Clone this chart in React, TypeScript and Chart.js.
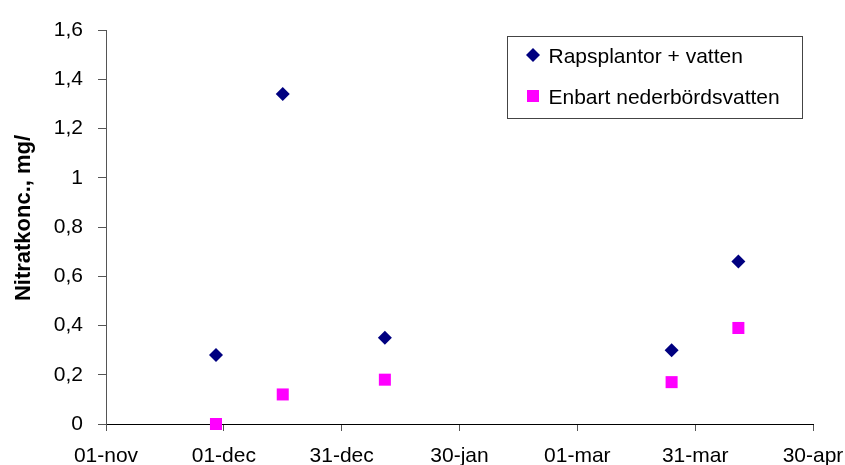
import React, { useEffect, useRef } from "react";
import { Chart, registerables } from "chart.js";

Chart.register(...registerables);

// Days counted from 1 November
const sampleDays = [28, 45, 71, 144, 161];
const rapsValues = [0.28, 1.34, 0.35, 0.3, 0.66];
const enbartValues = [0.0, 0.12, 0.18, 0.17, 0.39];

const seriesNames = ["Rapsplantor + vatten", "Enbart nederbördsvatten"];
const xTickLabels = ["01-nov", "01-dec", "31-dec", "30-jan", "01-mar", "31-mar", "30-apr"];
const yTickLabels = ["0", "0,2", "0,4", "0,6", "0,8", "1", "1,2", "1,4", "1,6"];
const yTitle = "Nitratkonc., mg/";

const NAVY = "#000080";
const MAGENTA = "#FF00FF";
const FONT = "'Liberation Sans', Arial, sans-serif";

// Rotated y-axis title, sitting a little above the plot's vertical centre
const yAxisTitle = {
  id: "yAxisTitle",
  afterDraw(chart: any) {
    const ctx = chart.ctx as CanvasRenderingContext2D;
    const area = chart.chartArea;
    ctx.save();
    ctx.translate(24, (area.top + area.bottom) / 2 - 9);
    ctx.rotate(-Math.PI / 2);
    ctx.font = `bold 22px ${FONT}`;
    ctx.fillStyle = "#000000";
    ctx.textAlign = "center";
    ctx.textBaseline = "middle";
    ctx.fillText(yTitle, 0, 0);
    ctx.restore();
  },
};

// Boxed legend placed inside the plot area, top right
const boxLegend = {
  id: "boxLegend",
  afterDatasetsDraw(chart: any) {
    const ctx = chart.ctx as CanvasRenderingContext2D;
    const area = chart.chartArea;
    const boxW = 295;
    const boxH = 82;
    const bx = Math.round(area.right - 11 - boxW) + 0.5;
    const by = Math.round(area.top + 6) + 0.5;
    ctx.save();
    ctx.fillStyle = "#ffffff";
    ctx.fillRect(bx, by, boxW, boxH);
    ctx.strokeStyle = "#444444";
    ctx.lineWidth = 1;
    ctx.strokeRect(bx, by, boxW, boxH);

    ctx.font = `21px ${FONT}`;
    ctx.textBaseline = "alphabetic";
    ctx.textAlign = "left";
    chart.data.datasets.forEach((ds: any, i: number) => {
      const cy = by + 18.5 + i * 41;
      const mx = bx + 25.5;
      ctx.fillStyle = ds.backgroundColor;
      ctx.beginPath();
      if (ds.pointStyle === "rectRot") {
        ctx.moveTo(mx - 7, cy);
        ctx.lineTo(mx, cy - 7);
        ctx.lineTo(mx + 7, cy);
        ctx.lineTo(mx, cy + 7);
        ctx.closePath();
      } else {
        ctx.rect(mx - 6, cy - 6, 12, 12);
      }
      ctx.fill();
      ctx.fillStyle = "#000000";
      ctx.fillText(ds.label, bx + 41, cy + 7.5);
    });
    ctx.restore();
  },
};

export default function App() {
  const canvasRef = useRef<HTMLCanvasElement | null>(null);

  useEffect(() => {
    if (!canvasRef.current) return;
    const chart = new Chart(canvasRef.current, {
      type: "scatter",
      data: {
        datasets: [
          {
            label: seriesNames[0],
            data: sampleDays.map((d, i) => ({ x: d, y: rapsValues[i] })),
            backgroundColor: NAVY,
            borderColor: NAVY,
            borderWidth: 0,
            pointStyle: "rectRot",
            pointRadius: 7,
            clip: false as any,
          },
          {
            label: seriesNames[1],
            data: sampleDays.map((d, i) => ({ x: d, y: enbartValues[i] })),
            backgroundColor: MAGENTA,
            borderColor: MAGENTA,
            borderWidth: 0,
            pointStyle: "rect",
            pointRadius: 8.5,
            clip: false as any,
          },
        ],
      },
      options: {
        responsive: false,
        animation: false,
        devicePixelRatio: 1,
        layout: { padding: { top: 30, right: 32, left: 0, bottom: 0 } },
        plugins: {
          legend: { display: false },
          tooltip: { enabled: false },
        },
        scales: {
          x: {
            type: "linear",
            min: 0,
            max: 180,
            afterFit: (scale: any) => {
              scale.height = 41;
              scale.paddingRight = 0;
            },
            afterBuildTicks: (scale: any) => {
              scale.ticks = xTickLabels.map((_, i) => ({ value: i * 30 }));
            },
            ticks: {
              maxRotation: 0,
              autoSkip: false,
              padding: 13,
              color: "#000000",
              font: { family: FONT, size: 21 },
              callback: (_v: any, i: number) => xTickLabels[i],
            },
            grid: {
              drawOnChartArea: false,
              drawTicks: true,
              tickLength: 7,
              color: "#555555",
            },
            border: { display: true, color: "#000000", width: 1 },
          },
          y: {
            type: "linear",
            min: 0,
            max: 1.6,
            afterFit: (scale: any) => {
              scale.width = 106;
            },
            afterBuildTicks: (scale: any) => {
              scale.ticks = yTickLabels.map((_, i) => ({ value: i * 0.2 }));
            },
            ticks: {
              autoSkip: false,
              padding: 15,
              color: "#000000",
              font: { family: FONT, size: 21 },
              callback: (_v: any, i: number) => yTickLabels[i],
            },
            grid: {
              drawOnChartArea: false,
              drawTicks: true,
              tickLength: 8,
              color: "#555555",
            },
            border: { display: true, color: "#555555", width: 1 },
          },
        },
      },
      plugins: [boxLegend, yAxisTitle],
    });
    return () => chart.destroy();
  }, []);

  return (
    <div style={{ position: "fixed", left: 0, top: 0, width: 845, height: 465, background: "#ffffff" }}>
      <canvas ref={canvasRef} width={845} height={465} style={{ display: "block", width: 845, height: 465 }} />
    </div>
  );
}
